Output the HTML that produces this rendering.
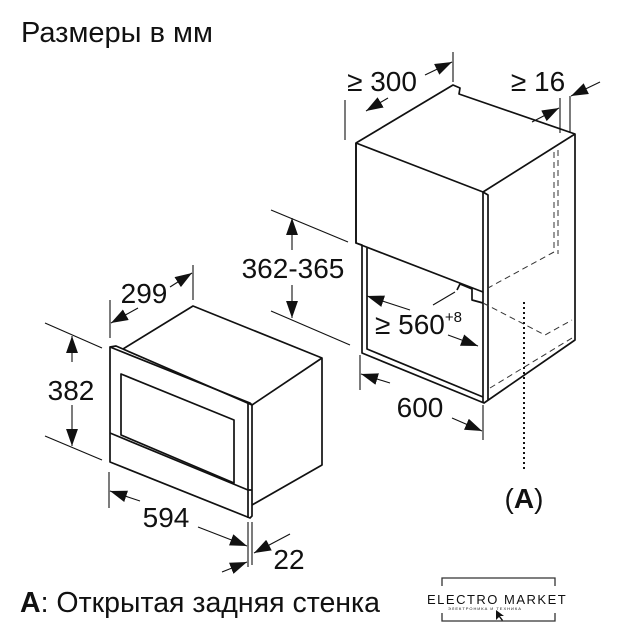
<!DOCTYPE html>
<html><head><meta charset="utf-8"><style>
html,body{margin:0;padding:0;background:#fff;width:618px;height:640px;overflow:hidden}
svg text{font-family:"Liberation Sans",sans-serif;fill:#111}
</style></head><body>
<svg width="618" height="640" viewBox="0 0 618 640" xmlns="http://www.w3.org/2000/svg">
<defs>
<marker id="a" viewBox="0 0 10 10" refX="10" refY="5" markerWidth="17" markerHeight="17" markerUnits="userSpaceOnUse" orient="auto"><path d="M0,1.5 L10,5 L0,8.5z" fill="#111"/></marker>
</defs>
<text x="21" y="42" font-size="29">Размеры в мм</text>

<g fill="none" stroke="#111" stroke-width="1.7" stroke-linejoin="round">
<path d="M356,143 L453,85 L460,88 L459,94 L575,134 L575,340 L484,403 L362,353 L362,245 L356,243 Z"/>
<path d="M356,143 L483,192 L575,134"/>
<path d="M356,143 L356,243 L483,292 L483,192"/>
<path d="M483,192 L488,195 L488,400"/>
<path d="M483,292 L483,403"/>
<path d="M367,248 L367,349 L483,397"/>
<path d="M457,290 L460,284 L472,289 L472,300 L483,303"/>
</g>
<g fill="none" stroke="#333" stroke-width="1" stroke-dasharray="6,4">
<path d="M554,152 L554,252 L488,288"/>
<path d="M558,150 L558,254"/>
<path d="M483,303 L545,335 L572,320"/>
<path d="M490,388 L572,338"/>
</g>
<path d="M524,302 L524,470" stroke="#111" stroke-width="2" stroke-dasharray="2,3"/>
<text x="524" y="508" font-size="28" text-anchor="middle">(<tspan font-weight="bold">A</tspan>)</text>

<g fill="none" stroke="#111" stroke-width="1.7" stroke-linejoin="round">
<path d="M110,347 L110,462 L250,518 L252,516 L252,405 L250,403 Z"/>
<path d="M110,347 L116,346 L252,405"/>
<path d="M123,349 L193,306 L322,358 L322,465 L252,505"/>
<path d="M252,405 L322,358"/>
<path d="M121,374 L234,420 L234,483 L121,435 Z"/>
<path d="M110,433 L248,490 L252,490"/>
<path d="M248,403 L248,518"/>
</g>

<g stroke="#111" stroke-width="1.1" fill="none">
<path d="M45,323 L102,348"/><path d="M45,436 L102,460"/>
<path d="M72,362 L72,336" marker-end="url(#a)"/><path d="M72,405 L72,446" marker-end="url(#a)"/>
<path d="M110,300 L110,338"/><path d="M193,265 L193,300"/>
<path d="M138,308 L111,323" marker-end="url(#a)"/><path d="M170,287 L192,273" marker-end="url(#a)"/>
<path d="M109,472 L109,508"/><path d="M248,522 L248,567"/><path d="M252,522 L252,565"/>
<path d="M140,501 L110,491" marker-end="url(#a)"/><path d="M198,527 L247,546" marker-end="url(#a)"/>
<path d="M290,534 L254,553" marker-end="url(#a)"/><path d="M222,572 L247,562" marker-end="url(#a)"/>
<path d="M271,210 L348,242"/><path d="M271,311 L350,345"/>
<path d="M292,250 L292,218" marker-end="url(#a)"/><path d="M292,285 L292,318" marker-end="url(#a)"/>
<path d="M345,100 L345,140"/><path d="M453,52 L453,82"/>
<path d="M388,98 L366,111" marker-end="url(#a)"/><path d="M425,75 L452,62" marker-end="url(#a)"/>
<path d="M560,98 L560,133"/><path d="M570,96 L570,133"/>
<path d="M532,122 L559,108" marker-end="url(#a)"/><path d="M600,82 L571,96" marker-end="url(#a)"/>
<path d="M433,305 L455,292"/>
<path d="M410,310 L367,296" marker-end="url(#a)"/><path d="M448,335 L478,346" marker-end="url(#a)"/>
<path d="M360,355 L360,390"/><path d="M483,405 L483,440"/>
<path d="M390,383 L361,374" marker-end="url(#a)"/><path d="M452,418 L482,431" marker-end="url(#a)"/>
</g>

<g font-size="28" text-anchor="middle">
<text x="71" y="400">382</text>
<text x="144" y="303">299</text>
<text x="166" y="527">594</text>
<text x="289" y="569">22</text>
<text x="293" y="278">362-365</text>
<text x="382" y="91">≥ 300</text>
<text x="538" y="91">≥ 16</text>
<text x="420" y="417">600</text>
</g>
<text x="375" y="334" font-size="28">≥ 560<tspan font-size="15" dy="-12">+8</tspan></text>
<text x="20" y="612" font-size="28.5"><tspan font-weight="bold">A</tspan>: Открытая задняя стенка</text>

<g stroke="#333" stroke-width="1.3" fill="none">
<path d="M442,586 L442,578 L555,578 L555,586"/>
<path d="M442,613 L442,621 L555,621 L555,613"/>
</g>
<text x="427" y="604" font-size="13" letter-spacing="1.5" fill="#111">ELECTRO MARKET</text>
<text x="448" y="610" font-size="4" letter-spacing="1" fill="#333">ЭЛЕКТРОНИКА И ТЕХНИКА</text>
<path d="M496,610 L496,620 L499,617 L502,621 L503,620 L500,616 L504,616 Z" fill="#111"/>
</svg>
</body></html>
